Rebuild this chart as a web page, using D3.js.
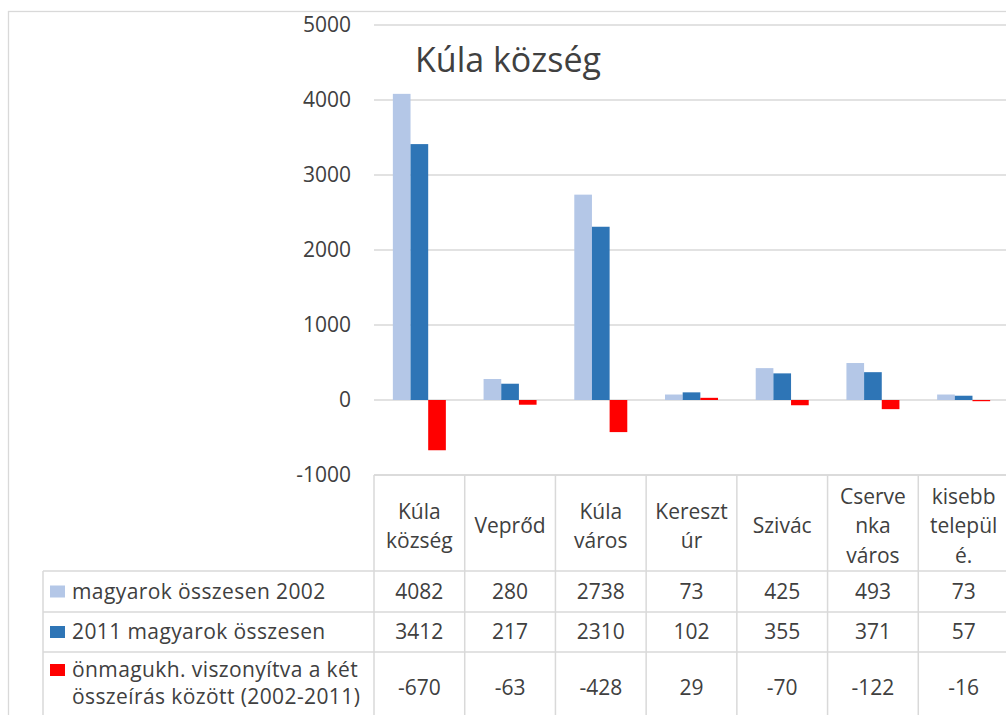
<!DOCTYPE html>
<html>
<head>
<meta charset="utf-8">
<script src="https://cdn.jsdelivr.net/npm/d3@7"></script>
<style>
  body { margin: 0; background: #fff; }
  svg { display: block; font-family: "Open Sans", sans-serif; }
  .grid { stroke: #d9d9d9; stroke-width: 1.3px; }
  .tbl { stroke: #d9d9d9; stroke-width: 1.5px; }
  .txt { fill: #404040; }
</style>
</head>
<body>
<svg id="chart" width="1006" height="715"></svg>
<script>
// categories and the wrapped header lines as they appear in the table
const categories = ["Kúla község", "Veprőd", "Kúla város", "Keresztúr", "Szivác", "Cservenka város", "kisebb települé."];
const headerLines = [["Kúla", "község"], ["Veprőd"], ["Kúla", "város"], ["Kereszt", "úr"], ["Szivác"], ["Cserve", "nka", "város"], ["kisebb", "települ", "é."]];

const seriesNames = ["magyarok összesen 2002", "2011 magyarok összesen", "önmagukh. viszonyítva a két összeírás között (2002-2011)"];
const legendLines = [["magyarok összesen 2002"], ["2011 magyarok összesen"], ["önmagukh. viszonyítva a két", "összeírás között (2002-2011)"]];
const seriesColors = ["#b4c7e7", "#2e75b6", "#ff0000"];

const values2002 = [4082, 280, 2738, 73, 425, 493, 73];
const values2011 = [3412, 217, 2310, 102, 355, 371, 57];
const valuesDiff = [-670, -63, -428, 29, -70, -122, -16];
const allSeries = [values2002, values2011, valuesDiff];

const yTicks = [-1000, 0, 1000, 2000, 3000, 4000, 5000];
const title = "Kúla község";

const svg = d3.select("#chart");

// outer chart frame (right and bottom edges fall outside the picture)
svg.append("rect")
  .attr("x", 8.5).attr("y", 11.5)
  .attr("width", 1100).attr("height", 800)
  .attr("fill", "none").attr("stroke", "#d9d9d9").attr("stroke-width", 1.3);

const plotLeft = 374, plotRight = 1009;
const y = d3.scaleLinear().domain([-1000, 5000]).range([475, 25]);
const x = d3.scaleBand().domain(categories).range([plotLeft, plotRight]);
const groupW = 53;
const xs = d3.scaleBand().domain([0, 1, 2])
  .range([(x.bandwidth() - groupW) / 2, (x.bandwidth() + groupW) / 2]);

// gridlines
svg.append("g").selectAll("line").data(yTicks).join("line")
  .attr("class", "grid")
  .attr("x1", plotLeft).attr("x2", 1006)
  .attr("y1", d => y(d)).attr("y2", d => y(d));

// y axis labels (plain hyphen for negatives, as in the original)
const yAxis = d3.axisLeft(y).tickValues(yTicks).tickSize(0).tickPadding(0).tickFormat(d => String(d));
const yg = svg.append("g").attr("transform", "translate(351,0)").call(yAxis);
yg.select(".domain").remove();
yg.selectAll("text").attr("class", "txt").style("font-size", "21px").attr("fill", "#404040")
  .style("font-family", "'Open Sans', sans-serif");

// bars
allSeries.forEach((vals, si) => {
  svg.append("g").selectAll("rect").data(vals).join("rect")
    .attr("x", (d, i) => x(categories[i]) + xs(si))
    .attr("width", xs.bandwidth())
    .attr("y", d => y(Math.max(0, d)))
    .attr("height", d => Math.abs(y(d) - y(0)))
    .attr("fill", seriesColors[si]);
});

// title
svg.append("text").attr("class", "txt")
  .attr("x", 415).attr("y", 72)
  .style("font-size", "34px")
  .text(title);

// data table
const headTop = y(-1000), headBottom = 571;
const rowEdges = [571, 612, 652, 730];
const legendLeft = 43;
const fs = "21px";
const tbl = svg.append("g");

// horizontal lines
tbl.append("line").attr("class", "tbl")
  .attr("x1", plotLeft).attr("x2", 1006).attr("y1", headTop).attr("y2", headTop);
tbl.selectAll("line.h").data(rowEdges.slice(0, 3)).join("line")
  .attr("class", "tbl h")
  .attr("x1", legendLeft).attr("x2", 1006).attr("y1", d => d).attr("y2", d => d);
// vertical lines
tbl.append("line").attr("class", "tbl")
  .attr("x1", legendLeft).attr("x2", legendLeft).attr("y1", headBottom).attr("y2", 715);
tbl.selectAll("line.v").data(categories).join("line")
  .attr("class", "tbl v")
  .attr("x1", d => x(d)).attr("x2", d => x(d)).attr("y1", headTop).attr("y2", 715);

// header cells
const lineH = 29.5;
categories.forEach((c, i) => {
  const lines = headerLines[i];
  const cy = (headTop + headBottom) / 2 + 3;
  const t = tbl.append("text").attr("class", "txt")
    .attr("text-anchor", "middle").style("font-size", fs);
  lines.forEach((ln, j) => {
    t.append("tspan")
      .attr("x", x(c) + x.bandwidth() / 2)
      .attr("y", cy + (j - (lines.length - 1) / 2) * lineH)
      .attr("dy", "0.35em")
      .text(ln);
  });
});

// value rows + legend
allSeries.forEach((vals, si) => {
  const top = rowEdges[si], bot = rowEdges[si + 1];
  const cy = si === 2 ? 688 : (top + bot) / 2;
  tbl.selectAll(null).data(vals).join("text")
    .attr("class", "txt")
    .attr("text-anchor", "middle")
    .attr("x", (d, i) => x(categories[i]) + x.bandwidth() / 2)
    .attr("y", cy).attr("dy", "0.35em")
    .style("font-size", fs)
    .text(d => d);

  const lines = legendLines[si];
  const firstY = si === 2 ? 670 : cy;
  tbl.append("rect")
    .attr("x", 50).attr("y", firstY - 6)
    .attr("width", 15).attr("height", 12)
    .attr("fill", seriesColors[si]);
  // each legend line is its own text element
  lines.forEach((ln, j) => {
    tbl.append("text").attr("class", "txt")
      .style("font-size", fs).style("letter-spacing", "0.4px")
      .attr("x", 72).attr("y", firstY + j * 27).attr("dy", "0.35em").text(ln);
  });
});
</script>
</body>
</html>
